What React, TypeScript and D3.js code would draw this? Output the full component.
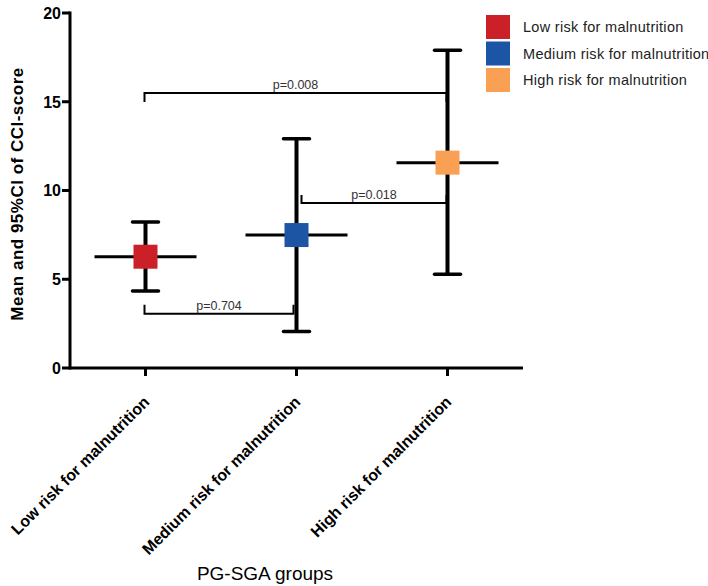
import React from 'react';
import * as d3 from 'd3';

// groups on the x axis
const groups = ['Low risk for malnutrition', 'Medium risk for malnutrition', 'High risk for malnutrition'];
const colors = ['#CB2028', '#1D55A5', '#F9A055'];

// mean and 95% CI of CCI-score per group
const means = [6.27, 7.49, 11.57];
const ciLow = [4.34, 2.05, 5.28];
const ciHigh = [8.23, 12.92, 17.9];

const yTicks = [0, 5, 10, 15, 20];

// pairwise comparisons
const compFrom = [0, 1, 0];
const compTo = [1, 2, 2];
const compY = [3.05, 9.3, 15.5];
const compLabel = ['p=0.704', 'p=0.018', 'p=0.008'];

export default function App() {
  const width = 708;
  const height = 586;
  const margin = { top: 13, right: 185, bottom: 218, left: 70 };

  const x = d3.scalePoint<string>()
    .domain(groups)
    .range([margin.left, width - margin.right])
    .padding(0.5);
  const y = d3.scaleLinear().domain([0, 20]).range([height - margin.bottom, margin.top]);

  const font = '"Liberation Sans", Arial, sans-serif';
  const x0 = margin.left;
  const x1 = width - margin.right;
  const y0 = y(0);

  const halfMean = 51;
  const halfCap = 13;
  const sq = 24;

  // bracket geometry: [left offset, right offset, tick length (negative = up)]
  const brk = [
    { l: -1, r: -3, t: -9 },
    { l: 5, r: -1, t: -8 },
    { l: -1, r: -1, t: 9 },
  ];

  return (
    <svg width={width} height={height} style={{ position: 'absolute', left: 0, top: 0, background: '#fff' }} fontFamily={font}>
      {/* comparison brackets */}
      {compLabel.map((lab, i) => {
        const xa = (x(groups[compFrom[i]]) as number) + brk[i].l;
        const xb = (x(groups[compTo[i]]) as number) + brk[i].r;
        const yy = y(compY[i]);
        return (
          <g key={lab}>
            <path
              d={`M${xa},${yy + brk[i].t}V${yy}H${xb}V${yy + brk[i].t}`}
              fill="none" stroke="#000" strokeWidth={2}
            />
            <text x={(xa + xb) / 2} y={yy - 4} textAnchor="middle" fontSize={12.5} fill="#333">{lab}</text>
          </g>
        );
      })}

      {/* error bars and means */}
      {groups.map((g, i) => {
        const cx = x(g) as number;
        return (
          <g key={g}>
            <line x1={cx} x2={cx} y1={y(ciLow[i])} y2={y(ciHigh[i])} stroke="#000" strokeWidth={4} />
            <line x1={cx - halfCap} x2={cx + halfCap} y1={y(ciLow[i])} y2={y(ciLow[i])} stroke="#000" strokeWidth={3.5} strokeLinecap="round" />
            <line x1={cx - halfCap} x2={cx + halfCap} y1={y(ciHigh[i])} y2={y(ciHigh[i])} stroke="#000" strokeWidth={3.5} strokeLinecap="round" />
            <line x1={cx - halfMean} x2={cx + halfMean} y1={y(means[i])} y2={y(means[i])} stroke="#000" strokeWidth={3} />
            <rect x={cx - sq / 2} y={y(means[i]) - sq / 2} width={sq} height={sq} fill={colors[i]} />
          </g>
        );
      })}

      {/* y axis */}
      <line x1={x0} x2={x0} y1={margin.top - 1.5} y2={y0 + 1.5} stroke="#000" strokeWidth={3} />
      {yTicks.map(t => (
        <g key={t}>
          <line x1={x0 - 8} x2={x0} y1={y(t)} y2={y(t)} stroke="#000" strokeWidth={3} />
          <text x={x0 - 9} y={y(t)} dy="0.36em" textAnchor="end" fontSize={16} fontWeight="bold" fill="#000">{t}</text>
        </g>
      ))}
      <text
        transform={`translate(23,194) rotate(-90)`}
        textAnchor="middle" fontSize={17} fontWeight="bold" letterSpacing={0.5} fill="#000"
      >Mean and 95%CI of CCI-score</text>

      {/* x axis */}
      <line x1={x0} x2={x1} y1={y0} y2={y0} stroke="#000" strokeWidth={3} />
      {groups.map(g => {
        const cx = x(g) as number;
        return (
          <g key={g}>
            <line x1={cx} x2={cx} y1={y0} y2={y0 + 8} stroke="#000" strokeWidth={3} />
            <text
              transform={`translate(${cx + 5},${y0 + 35}) rotate(-45)`}
              textAnchor="end" fontSize={16} fontWeight="bold" fill="#000"
            >{g}</text>
          </g>
        );
      })}
      <text x={265} y={580} textAnchor="middle" fontSize={19} fill="#000">PG-SGA groups</text>

      {/* legend */}
      {groups.map((g, i) => (
        <g key={g} transform={`translate(486,${15 + i * 26.5})`}>
          <rect width={24} height={24} fill={colors[i]} />
          <text x={37} y={12} dy="0.35em" fontSize={14.5} letterSpacing={0.3} fill="#222">{g}</text>
        </g>
      ))}
    </svg>
  );
}
